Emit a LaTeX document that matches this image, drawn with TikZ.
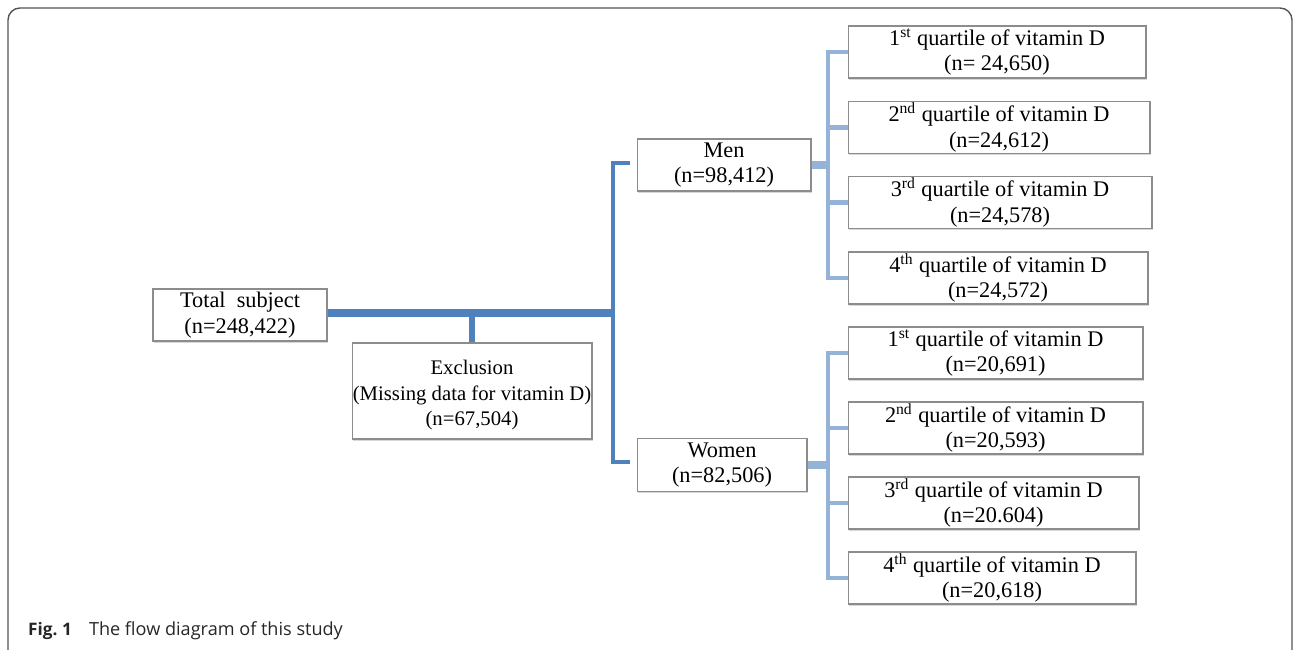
\documentclass[tikz,border=0pt]{standalone}
\usepackage{fontspec}
\setmainfont{Liberation Serif}
\newfontfamily\capfont{Open Sans}
\usetikzlibrary{shadows}
\definecolor{trunkblue}{HTML}{4F81BD}
\definecolor{branchblue}{HTML}{95B3D7}
\definecolor{edgegray}{HTML}{8C8C8C}
\definecolor{framegray}{HTML}{555555}

\begin{document}
\begin{tikzpicture}[x=0.02cm, y=-0.02cm,
	box/.style={draw=edgegray, fill=white, line width=0.6pt, align=center, inner sep=0pt, minimum height=1.04cm, font=\fontsize{12.7}{14.5}\selectfont, drop shadow={shadow xshift=0.7pt, shadow yshift=-0.9pt, fill=black!30}},
	trunk/.style={trunkblue, line width=2.8pt},
	branch/.style={branchblue, line width=2.8pt}]
		\useasboundingbox (0,0) rectangle (1293,649);
		\draw[framegray, line width=0.8pt, rounded corners=6.8pt] (8,700) -- (8,8) -- (1292,8) -- (1292,700);

		\draw (240,315) node[box, minimum width=3.48cm] (total) {Total~ subject\\(n=248,422)};
		\draw (472,391) node[box, minimum width=4.8cm, minimum height=1.92cm, font=\fontsize{11.8}{14.5}\selectfont] (excl) {\rule{0pt}{13pt}Exclusion\\(Missing data for vitamin D)\\(n=67,504)};

		\draw (724,165) node[box, minimum width=3.48cm] (men) {Men\\(n=98,412)};
		\draw (722,465) node[box, minimum width=3.4cm, minimum height=1.06cm] (women) {Women\\(n=82,506)};

		\draw (997,52) node[box, minimum width=5.96cm] (mq1) {1\textsuperscript{st} quartile of vitamin D\\(n= 24,650)};
		\draw (999,127.5) node[box, minimum width=6.04cm] (mq2) {2\textsuperscript{nd} quartile of vitamin D\\(n=24,612)};
		\draw (1000,202.5) node[box, minimum width=6.08cm] (mq3) {3\textsuperscript{rd} quartile of vitamin D\\(n=24,578)};
		\draw (998,278) node[box, minimum width=6cm] (mq4) {4\textsuperscript{th} quartile of vitamin D\\(n=24,572)};

		\draw (995.5,353) node[box, minimum width=5.9cm] (wq1) {1\textsuperscript{st} quartile of vitamin D\\(n=20,691)};
		\draw (995.5,428) node[box, minimum width=5.9cm] (wq2) {2\textsuperscript{nd} quartile of vitamin D\\(n=20,593)};
		\draw (993.5,503) node[box, minimum width=5.82cm] (wq3) {3\textsuperscript{rd} quartile of vitamin D\\(n=20.604)};
		\draw (992,578) node[box, minimum width=5.76cm] (wq4) {4\textsuperscript{th} quartile of vitamin D\\(n=20,618)};

		\coordinate (split) at (613,313);
		\coordinate (mtick) at (630,163);
		\coordinate (wtick) at (630,462);
		\coordinate (mfork) at (828,165);
		\coordinate (wfork) at (828,465);

		\draw[trunk, line width=4.5pt] (total.east |- split) -- (split);
		\draw[trunk, line width=3.4pt] (excl.north) -- (excl.north |- split);
		\draw[trunk] (mtick) -- (mtick -| split) -- (wtick -| split) -- (wtick);

		\draw[branch, line width=4pt] (men.east) -- (mfork);
		\draw[branch] (mq1.west) -- (mq1.west -| mfork) -- (mq4.west -| mfork) -- (mq4.west);
		\draw[branch] (mq2.west) -- (mq2.west -| mfork);
		\draw[branch] (mq3.west) -- (mq3.west -| mfork);

		\draw[branch, line width=4pt] (women.east) -- (wfork);
		\draw[branch] (wq1.west) -- (wq1.west -| wfork) -- (wq4.west -| wfork) -- (wq4.west);
		\draw[branch] (wq2.west) -- (wq2.west -| wfork);
		\draw[branch] (wq3.west) -- (wq3.west -| wfork);

		\draw (22,635) node[anchor=base west, text=black!85, font=\capfont\fontsize{10.3}{12}\selectfont] (cap) {{\fontsize{9.8}{12}\selectfont\textbf{Fig.~1}}\hspace{0.95em}The flow diagram of this study};
	\end{tikzpicture}
\end{document}
